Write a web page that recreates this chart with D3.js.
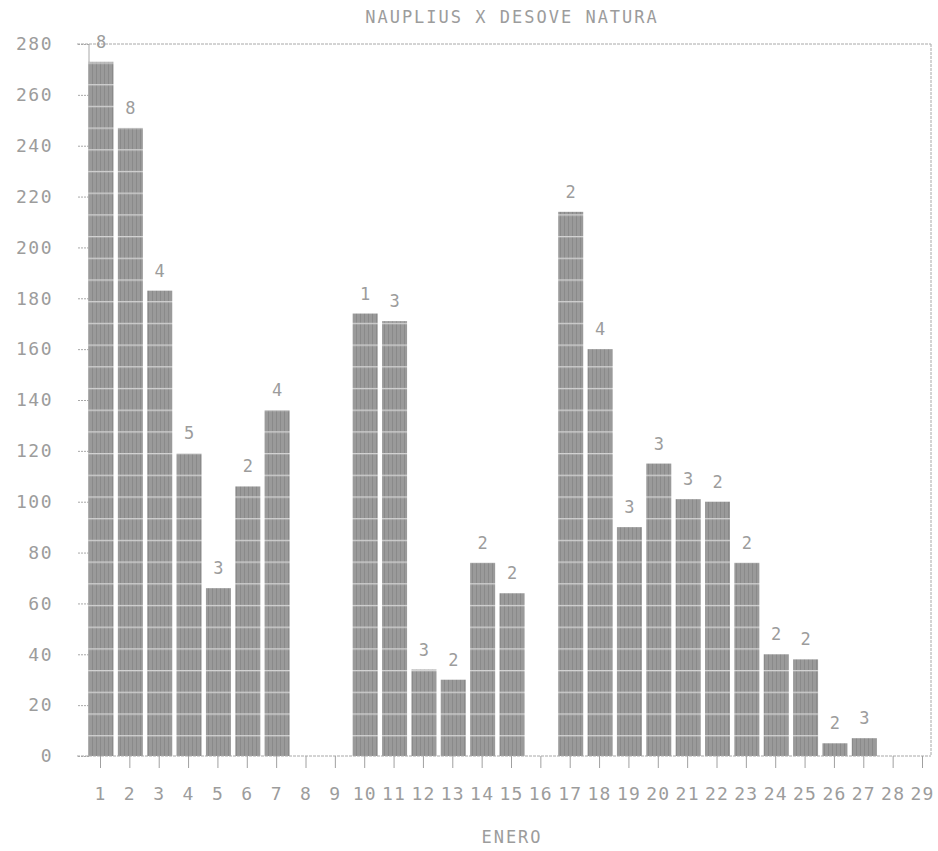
<!DOCTYPE html>
<html>
<head>
<meta charset="utf-8">
<script src="https://cdn.jsdelivr.net/npm/d3@7/dist/d3.min.js"></script>
<style>
  html, body { margin: 0; padding: 0; background: #ffffff; }
  svg { display: block; }
  text { font-family: "DejaVu Sans Mono", "Liberation Mono", monospace; fill: #9c9c9c; }
</style>
</head>
<body>
<div id="chart"></div>
<script>
// ---- data ----
const days = d3.range(1, 30).map(String);
const nauplius = [273, 247, 183, 119, 66, 106, 136, 0, 0, 174, 171, 34, 30, 76, 64, 0,
                  214, 160, 90, 115, 101, 100, 76, 40, 38, 5, 7, 0, 0];
const counts = ["8", "8", "4", "5", "3", "2", "4", "", "", "1", "3", "3", "2", "2", "2", "",
                "2", "4", "3", "3", "3", "2", "2", "2", "2", "2", "3", "", ""];
const yTicks = [0, 20, 40, 60, 80, 100, 120, 140, 160, 180, 200, 220, 240, 260, 280];
const title = "NAUPLIUS X DESOVE NATURA";
const xTitle = "ENERO";

// ---- layout ----
const W = 938, H = 851;
const frame = { left: 89, right: 931, top: 44, bottom: 756 };

const svg = d3.select("#chart").append("svg").attr("width", W).attr("height", H);

// halftone-like pattern for bars
const defs = svg.append("defs");
const pat = defs.append("pattern")
  .attr("id", "dots").attr("patternUnits", "userSpaceOnUse")
  .attr("x", 0).attr("y", 19).attr("width", 4).attr("height", 21.7);
pat.append("rect").attr("width", 4).attr("height", 21.7).attr("fill", "#9a9a9a");
pat.append("rect").attr("x", 0).attr("y", 0).attr("width", 1).attr("height", 21.7).attr("fill", "#8a8a8a");
pat.append("rect").attr("x", 0).attr("y", 0).attr("width", 4).attr("height", 1.3).attr("fill", "#d2d2d2");

const x = d3.scalePoint().domain(days).range([100, 922]);
const y = d3.scaleLinear().domain([0, 280]).range([frame.bottom, frame.top]);
const barW = 25;

// frame: top + right border, left axis
const lineCol = "#a8a8a8";
svg.append("line").attr("x1", 77).attr("x2", frame.right).attr("y1", frame.top).attr("y2", frame.top)
  .attr("stroke", lineCol).attr("stroke-width", 1).attr("stroke-dasharray", "3,1");
svg.append("line").attr("x1", frame.right).attr("x2", frame.right).attr("y1", frame.top).attr("y2", frame.bottom)
  .attr("stroke", lineCol).attr("stroke-width", 1).attr("stroke-dasharray", "3,1");
svg.append("line").attr("x1", frame.left).attr("x2", frame.left).attr("y1", frame.top).attr("y2", frame.bottom)
  .attr("stroke", lineCol).attr("stroke-width", 1);

// bars
svg.append("g").selectAll("rect").data(nauplius).join("rect")
  .attr("x", (d, i) => x(days[i]) - barW / 2 + 1)
  .attr("width", barW)
  .attr("y", d => y(d))
  .attr("height", d => y(0) - y(d))
  .attr("fill", "url(#dots)");

// bar value labels
svg.append("g").selectAll("text").data(counts).join("text")
  .attr("x", (d, i) => x(days[i]) + 1)
  .attr("y", (d, i) => y(nauplius[i]) - 14)
  .attr("text-anchor", "middle")
  .attr("font-size", 17)
  .text(d => d);

// y axis
const yAxis = d3.axisLeft(y).tickValues(yTicks).tickSize(12).tickPadding(24).tickFormat(d3.format("d"));
const gy = svg.append("g").attr("transform", `translate(${frame.left},0)`).call(yAxis);
gy.select(".domain").remove();
gy.selectAll(".tick line").attr("stroke", lineCol).attr("stroke-dasharray", "2,1");
gy.selectAll(".tick text").attr("font-size", 18).attr("letter-spacing", 1.5).attr("fill", "#a0a0a0")
  .style("font-family", "'DejaVu Sans Mono', monospace");

// x axis
svg.append("line").attr("x1", 77).attr("x2", frame.right).attr("y1", frame.bottom).attr("y2", frame.bottom)
  .attr("stroke", lineCol).attr("stroke-width", 1).attr("stroke-dasharray", "3,1");
const xAxis = d3.axisBottom(x).tickSize(12).tickPadding(19);
const gx = svg.append("g").attr("transform", `translate(0,${frame.bottom})`).call(xAxis);
gx.select(".domain").remove();
gx.selectAll(".tick line").attr("stroke", "#a0a0a0");
gx.selectAll(".tick text").attr("font-size", 18).attr("letter-spacing", 1.2).attr("fill", "#a0a0a0")
  .style("font-family", "'DejaVu Sans Mono', monospace");

// titles
svg.append("text").attr("x", 512).attr("y", 23).attr("text-anchor", "middle")
  .attr("font-size", 17).attr("letter-spacing", 2).text(title);
svg.append("text").attr("x", 512).attr("y", 843).attr("text-anchor", "middle")
  .attr("font-size", 17).attr("letter-spacing", 2).text(xTitle);
</script>
</body>
</html>
